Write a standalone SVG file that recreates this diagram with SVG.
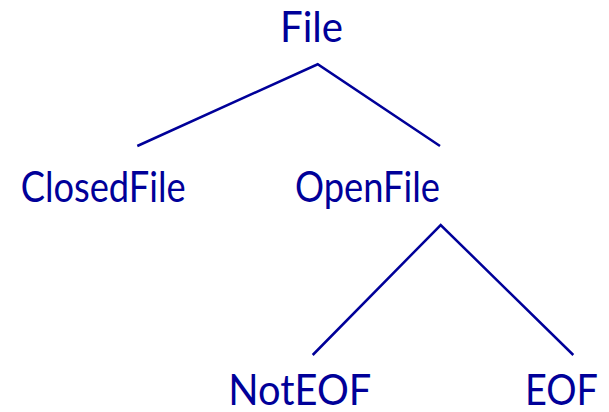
<svg xmlns="http://www.w3.org/2000/svg" width="609" height="412" viewBox="0 0 609 412">
<style>
.t{font-family:Lato,"Open Sans","Liberation Sans",sans-serif;font-size:42px;fill:#000099}
.e{stroke:#000099;stroke-width:2.5;fill:none}
</style>
<rect width="609" height="412" fill="#ffffff"/>
<g id="connectors">
<polyline class="e" points="137.3,146 317.7,64.3 440,146"/>
<polyline class="e" points="312.7,355 440.7,225 573.3,355"/>
</g>
<g id="node-file"><text class="t" x="280" y="41.7" textLength="63" lengthAdjust="spacingAndGlyphs">File</text></g>
<g id="node-closedfile"><text class="t" x="20.7" y="201.7" textLength="165" lengthAdjust="spacingAndGlyphs">ClosedFile</text></g>
<g id="node-openfile"><text class="t" x="295" y="201.7" textLength="145" lengthAdjust="spacingAndGlyphs">OpenFile</text></g>
<g id="node-noteof"><text class="t" x="228.3" y="405" textLength="143" lengthAdjust="spacingAndGlyphs">NotEOF</text></g>
<g id="node-eof"><text class="t" x="525" y="405" textLength="73" lengthAdjust="spacingAndGlyphs">EOF</text></g>
</svg>
